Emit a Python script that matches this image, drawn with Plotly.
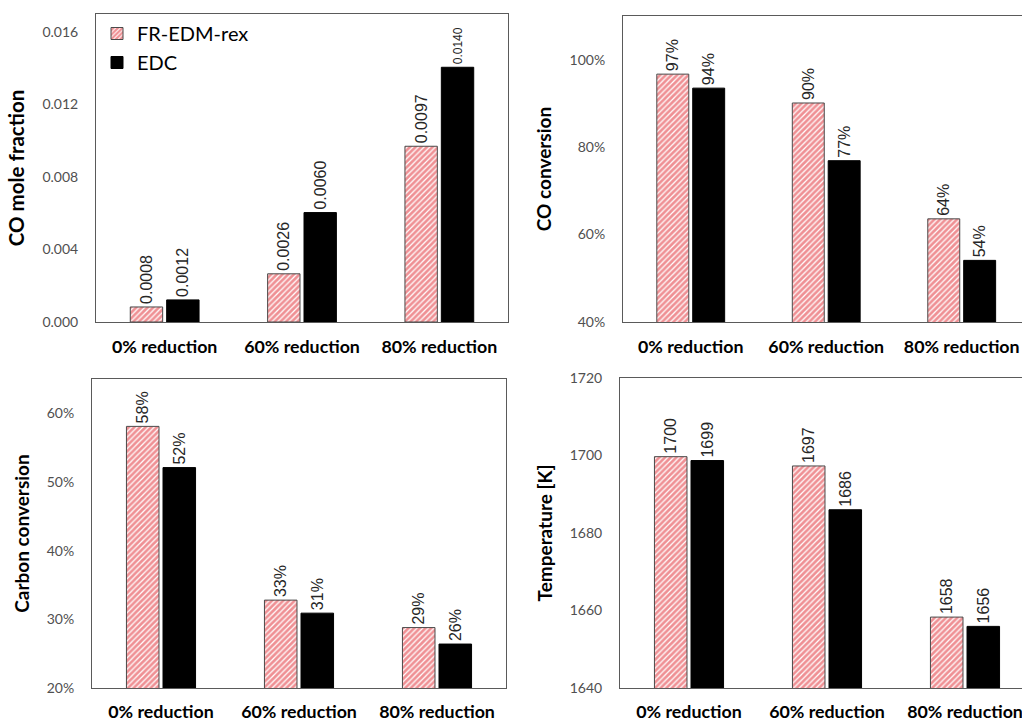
import plotly.graph_objects as go

categories = ["0% reduction", "60% reduction", "80% reduction"]
series_names = ["FR-EDM-rex", "EDC"]

# Panel 1: CO mole fraction
co_frac_fr = [0.00083, 0.00266, 0.0097]
co_frac_edc = [0.00122, 0.00604, 0.01406]
co_frac_fr_lbl = ["0.0008", "0.0026", "0.0097"]
co_frac_edc_lbl = ["0.0012", "0.0060", "0.0140"]

# Panel 2: CO conversion
co_conv_fr = [0.967, 0.901, 0.636]
co_conv_edc = [0.935, 0.769, 0.541]
co_conv_fr_lbl = ["97%", "90%", "64%"]
co_conv_edc_lbl = ["94%", "77%", "54%"]

# Panel 3: Carbon conversion
c_conv_fr = [0.581, 0.328, 0.288]
c_conv_edc = [0.521, 0.309, 0.264]
c_conv_fr_lbl = ["58%", "33%", "29%"]
c_conv_edc_lbl = ["52%", "31%", "26%"]

# Panel 4: Temperature
temp_fr = [1699.7, 1697.3, 1658.3]
temp_edc = [1698.7, 1686.0, 1655.9]
temp_fr_lbl = ["1700", "1697", "1658"]
temp_edc_lbl = ["1699", "1686", "1656"]

W, H = 1022, 722
RED = "#e0222a"
LBL_FONT = "Liberation Sans, Arial, sans-serif"
AX_FONT = "Lato, Open Sans, sans-serif"

fig = go.Figure()

panels = [
    ("x", "y", co_frac_fr, co_frac_edc, co_frac_fr_lbl, co_frac_edc_lbl, [16, 16, 16], [16, 16, 12]),
    ("x2", "y2", co_conv_fr, co_conv_edc, co_conv_fr_lbl, co_conv_edc_lbl, [16] * 3, [16] * 3),
    ("x3", "y3", c_conv_fr, c_conv_edc, c_conv_fr_lbl, c_conv_edc_lbl, [16] * 3, [16] * 3),
    ("x4", "y4", temp_fr, temp_edc, temp_fr_lbl, temp_edc_lbl, [16] * 3, [16] * 3),
]

for i, (xa, ya, fr, edc, frl, edcl, frs, edcs) in enumerate(panels):
    fig.add_trace(go.Bar(
        x=categories, y=fr, name=series_names[0], xaxis=xa, yaxis=ya,
        showlegend=(i == 0), legendgroup="fr",
        marker=dict(color="white", line=dict(color="#4a4a4a", width=1),
                    pattern=dict(shape="/", fgcolor=RED, bgcolor="white", size=4, solidity=0.7)),
        text=frl, textposition="outside", textangle=-90, cliponaxis=False,
        constraintext="none",
        textfont=dict(family=LBL_FONT, size=frs, color="#262626"),
    ))
    fig.add_trace(go.Bar(
        x=categories, y=edc, name=series_names[1], xaxis=xa, yaxis=ya,
        showlegend=(i == 0), legendgroup="edc",
        marker=dict(color="black", line=dict(color="black", width=1)),
        text=edcl, textposition="outside", textangle=-90, cliponaxis=False,
        constraintext="none",
        textfont=dict(family=LBL_FONT, size=edcs, color="#262626"),
    ))

def px_x(a, b):
    return [a / W, min(b / W, 1.0)]

def px_y(top, bottom):
    return [(H - bottom) / H, (H - top) / H]

LINE = "#5a5a5a"
tickfont = dict(family=AX_FONT, size=14, color="#505050")
catfont = dict(family=AX_FONT, size=17.8, color="black", weight="bold")

def xaxis(domain, anchor, rng, standoff, mirror=True):
    return dict(domain=domain, anchor=anchor, type="category", range=rng,
                showline=True, linecolor=LINE, linewidth=1, mirror=mirror,
                showgrid=False, ticks="", tickfont=catfont, ticklabelstandoff=standoff,
                automargin=False, fixedrange=True)

def yaxis(domain, anchor, rng, dtick, fmt, title, tsize, mirror=True):
    return dict(domain=domain, anchor=anchor, range=rng, dtick=dtick, tickformat=fmt,
                showline=True, linecolor=LINE, linewidth=1, mirror=mirror,
                showgrid=False, zeroline=False, ticks="", tickfont=tickfont,
                ticklabelstandoff=14, automargin=False, fixedrange=True,
                title=dict(text=title, standoff=12,
                           font=dict(family=AX_FONT, size=tsize, color="black", weight="bold")))

fig.update_layout(
    width=W, height=H,
    margin=dict(l=0, r=0, t=0, b=0, autoexpand=False),
    paper_bgcolor="white", plot_bgcolor="white",
    barmode="group", bargap=0.47, bargroupgap=0.11,
    showlegend=True,
    legend=dict(x=97 / W, y=(H - 14) / H, xanchor="left", yanchor="top",
                font=dict(family=AX_FONT, size=20, color="black"),
                bgcolor="rgba(0,0,0,0)", itemwidth=30, tracegroupgap=0),
    xaxis=xaxis(px_x(96, 508), "y", [-0.5, 2.5], 9),
    yaxis=yaxis(px_y(14, 322), "x", [0, 0.017], 0.004, ".3f", "CO mole fraction", 20.5),
    xaxis2=xaxis(px_x(623, W), "y2", [-0.5, 2.445], 9),
    yaxis2=yaxis(px_y(16, 322), "x2", [0.4, 1.1], 0.2, ".0%", "CO conversion", 19, mirror=False),
    xaxis3=xaxis(px_x(92, 506), "y3", [-0.5, 2.5], 8),
    yaxis3=yaxis(px_y(379, 688), "x3", [0.2, 0.65], 0.1, ".0%", "Carbon conversion", 19),
    xaxis4=xaxis(px_x(620, W), "y4", [-0.5, 2.413], 8),
    yaxis4=yaxis(px_y(378, 688), "x4", [1640, 1720], 20, "d", "Temperature [K]", 19, mirror=False),
)

fig.write_html(
    "out.html",
    config={"displayModeBar": False},
    post_script="document.body.style.margin='0';document.body.style.overflow='hidden';",
)
